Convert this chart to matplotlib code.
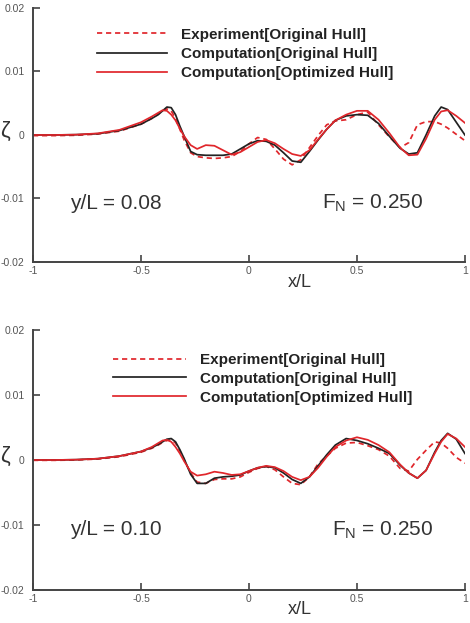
import matplotlib
matplotlib.use('Agg')
import matplotlib.pyplot as plt
import numpy as np

plt.rcParams['font.family'] = ['Liberation Sans', 'DejaVu Sans']

# x/L stations shared by all curves
x_l = [-1.0, -0.9, -0.8, -0.7, -0.6, -0.5, -0.45, -0.42, -0.40, -0.38, -0.36, -0.34,
       -0.32, -0.30, -0.27, -0.24, -0.20, -0.16, -0.12, -0.08, -0.04, 0.0, 0.04, 0.08,
       0.12, 0.16, 0.20, 0.24, 0.28, 0.32, 0.36, 0.40, 0.45, 0.50, 0.55, 0.60, 0.65,
       0.70, 0.74, 0.78, 0.82, 0.86, 0.89, 0.92, 0.96, 1.0]

# wave elevation, units of 1e-3
# y/L = 0.08
exp_008 = [-0.1, -0.1, -0.05, 0.15, 0.6, 1.7, 2.6, 3.3, 3.8, 4.1, 3.8, 2.6,
           0.9, -0.8, -2.8, -3.4, -3.6, -3.7, -3.6, -3.4, -2.6, -1.4, -0.4, -0.7,
           -2.2, -3.8, -4.7, -3.9, -2.0, -0.1, 1.6, 2.2, 2.4, 3.2, 3.6, 1.6, -0.3,
           -2.0, -1.2, 1.6, 2.1, 2.1, 1.7, 1.1, 0.1, -0.9]
orig_008 = [0.0, 0.0, 0.05, 0.2, 0.7, 1.7, 2.6, 3.2, 3.8, 4.4, 4.3, 3.2,
            1.4, -0.2, -2.6, -3.1, -3.2, -3.2, -3.2, -3.0, -2.2, -1.4, -0.9, -1.0,
            -1.6, -2.8, -4.1, -4.3, -2.6, -0.8, 0.9, 2.3, 3.0, 3.2, 3.1, 1.8, -0.2,
            -2.1, -3.0, -2.8, 0.0, 3.0, 4.4, 4.0, 2.0, 0.0]
opt_008 = [0.0, 0.0, 0.05, 0.25, 0.8, 2.0, 2.9, 3.5, 3.9, 3.8, 3.2, 2.3,
           1.0, -0.2, -1.6, -2.2, -1.6, -1.7, -2.4, -3.1, -2.7, -1.9, -1.1, -0.8,
           -1.3, -2.2, -3.0, -3.3, -2.4, -0.7, 0.9, 2.3, 3.2, 3.8, 3.8, 2.4, 0.3,
           -2.0, -3.2, -3.1, -0.6, 2.4, 3.7, 3.9, 3.0, 1.9]

# y/L = 0.10
exp_010 = [-0.05, -0.05, 0.0, 0.15, 0.5, 1.2, 1.8, 2.3, 2.7, 3.0, 3.1, 2.6,
           1.4, 0.0, -2.0, -3.4, -3.6, -3.0, -2.9, -2.9, -2.6, -1.9, -1.3, -1.0,
           -1.5, -2.6, -3.6, -3.8, -2.6, -0.6, 0.6, 1.8, 2.6, 2.7, 2.2, 1.6, 0.6,
           -1.3, -1.7, 0.1, 1.5, 2.8, 2.6, 1.8, 0.4, -0.5]
orig_010 = [0.0, 0.0, 0.05, 0.2, 0.6, 1.3, 1.9, 2.4, 2.8, 3.2, 3.3, 2.8,
            1.6, 0.2, -2.2, -3.6, -3.6, -2.8, -2.6, -2.5, -2.3, -1.7, -1.2, -1.0,
            -1.2, -2.0, -3.0, -3.6, -2.6, -0.9, 0.8, 2.3, 3.3, 3.0, 2.5, 1.8, 1.0,
            -0.8, -2.0, -2.8, -1.6, 1.2, 3.0, 4.1, 3.2, 1.0]
opt_010 = [0.0, 0.0, 0.05, 0.2, 0.6, 1.3, 2.0, 2.6, 3.0, 3.1, 2.8, 2.0,
           1.0, -0.2, -1.8, -2.4, -2.2, -1.8, -2.0, -2.3, -2.2, -1.7, -1.2, -0.9,
           -1.1, -1.7, -2.6, -3.1, -2.6, -1.2, 0.5, 2.0, 3.0, 3.5, 3.1, 2.3, 1.2,
           -0.7, -2.0, -2.8, -1.6, 1.0, 2.8, 4.0, 3.3, 2.0]

panels = [
    {'yl': 'y/L = 0.08', 'exp': exp_008, 'orig': orig_008, 'opt': opt_008,
     'rect': [0.0702, 0.5795, 0.919, 0.4077], 'leg': (0.148, 0.922), 'hl': 4.6,
     'ls': 0.35, 'fn_x': 0.669, 'txt_y': 0.232, 'xl_y': -0.079},
    {'yl': 'y/L = 0.10', 'exp': exp_010, 'orig': orig_010, 'opt': opt_010,
     'rect': [0.0702, 0.053, 0.919, 0.4173], 'leg': (0.185, 0.912), 'hl': 4.8,
     'ls': 0.32, 'fn_x': 0.692, 'txt_y': 0.231, 'xl_y': -0.077},
]

RED = '#e0262b'
BLACK = '#222222'
AXC = '#444444'

fig = plt.figure(figsize=(4.7, 6.23), dpi=100)

for p in panels:
    ax = fig.add_axes(p['rect'])
    x = np.array(x_l)
    ax.plot(x, np.array(p['exp']) * 1e-3, color=RED, lw=1.25, ls=(0, (3, 2.2)),
            label='Experiment[Original Hull]')
    ax.plot(x, np.array(p['orig']) * 1e-3, color=BLACK, lw=1.25,
            label='Computation[Original Hull]')
    ax.plot(x, np.array(p['opt']) * 1e-3, color=RED, lw=1.25,
            label='Computation[Optimized Hull]')

    ax.set_xlim(-1, 1)
    ax.set_ylim(-0.02, 0.02)
    ax.set_xticks([-1, -0.5, 0, 0.5, 1])
    ax.set_xticklabels(['-1', '-0.5', '0', '0.5', '1'])
    ax.set_yticks([-0.02, -0.01, 0, 0.01, 0.02])
    ax.set_yticklabels(['-0.02', '-0.01', '0', '0.01', '0.02'])
    ax.tick_params(direction='in', length=5, width=1.2, color=AXC,
                   labelsize=7.5, labelcolor='#555555')
    ax.tick_params(axis='y', pad=6)
    ax.tick_params(axis='x', pad=3)
    for side in ['top', 'right']:
        ax.spines[side].set_visible(False)
    for side in ['left', 'bottom']:
        ax.spines[side].set_color(AXC)
        ax.spines[side].set_linewidth(1.4)

    leg = ax.legend(loc='upper left', bbox_to_anchor=p['leg'], frameon=False,
                    borderpad=0, borderaxespad=0, handlelength=p['hl'],
                    handletextpad=0.9, labelspacing=p['ls'],
                    prop={'size': 11, 'weight': 'bold'})
    for t in leg.get_texts():
        t.set_color('#222222')

    ax.text(0.086, p['txt_y'], p['yl'], transform=ax.transAxes, fontsize=15,
            color='#333333', va='center', ha='left')
    ax.text(p['fn_x'], p['txt_y'], r'F$_\mathregular{N}$ = 0.250', transform=ax.transAxes,
            fontsize=15, color='#333333', va='center', ha='left')
    ax.text(0.618, p['xl_y'], 'x/L', transform=ax.transAxes, fontsize=13,
            color='#333333', va='center', ha='center')
    ax.text(-0.065, 0.515, 'ζ', transform=ax.transAxes, fontsize=16,
            color='#333333', va='center', ha='center')

plt.savefig('out.png', dpi=100)
